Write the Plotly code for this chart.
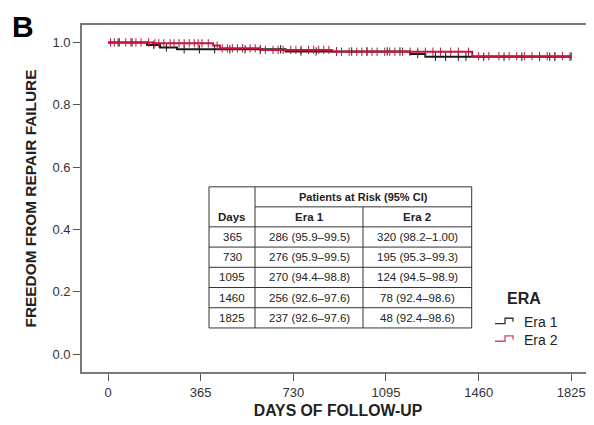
import plotly.graph_objects as go

# ---- data ----
era1_times = [0, 154, 205, 272, 700, 1190, 1250, 1825]
era1_surv = [1.0, 0.992, 0.984, 0.978, 0.971, 0.963, 0.954, 0.954]
era2_times = [0, 177, 414, 441, 599, 883, 1435, 1825]
era2_surv = [1.0, 0.997, 0.990, 0.981, 0.976, 0.970, 0.956, 0.956]

era1_censor = [40, 95, 180, 230, 300, 360, 420, 480, 540, 600, 680, 760, 820, 900,
               960, 1020, 1100, 1150, 1220, 1290, 1330, 1380, 1410, 1480, 1560, 1630,
               1700, 1740, 1760, 1820]
era2_censor = [10, 25, 45, 70, 90, 110, 130, 160, 185, 200, 220, 245, 260, 280, 300,
               320, 340, 355, 370, 395, 430, 450, 470, 490, 510, 530, 560, 580, 600,
               620, 650, 670, 690, 720, 740, 760, 790, 810, 830, 850, 870, 900, 920,
               950, 980, 1000, 1020, 1040, 1060, 1090, 1110, 1130, 1160, 1190, 1220,
               1250, 1280, 1310, 1350, 1380, 1420, 1460, 1500, 1540, 1580, 1610, 1640,
               1670, 1700, 1730, 1760, 1790, 1825]

x_ticks = [0, 365, 730, 1095, 1460, 1825]
y_ticks = [0.0, 0.2, 0.4, 0.6, 0.8, 1.0]

table_days = ["365", "730", "1095", "1460", "1825"]
table_era1 = ["286 (95.9–99.5)", "276 (95.9–99.5)", "270 (94.4–98.8)",
              "256 (92.6–97.6)", "237 (92.6–97.6)"]
table_era2 = ["320 (98.2–1.00)", "195 (95.3–99.3)", "124 (94.5–98.9)",
              "78 (92.4–98.6)", "48 (92.4–98.6)"]

series_names = ["Era 1", "Era 2"]
legend_title = "ERA"

RED = "#C0163F"
BLACK = "#1a1a1a"
FONT = "Arial, Liberation Sans, sans-serif"

# page body has an 8px margin: the figure is sized so it ends at the window edge
OFF = 8
W, H = 594, 425              # reference (window) size
FW, FH = W - OFF, H - OFF    # figure size
ML, MT = 82 - OFF, 25 - OFF
MR = 0
MB = H - 371.7
PW = FW - ML - MR
PH = FH - MT - MB


def px(x):
    """reference window x-pixel -> paper coordinate"""
    return (x - OFF - ML) / PW


def py(y):
    """reference window y-pixel -> paper coordinate"""
    return (FH - MB - (y - OFF)) / PH


def surv_at(t, times, surv):
    val = surv[0]
    for ti, si in zip(times, surv):
        if ti <= t:
            val = si
    return val


fig = go.Figure()

for name, times, surv, cens, col in [
    (series_names[0], era1_times, era1_surv, era1_censor, BLACK),
    (series_names[1], era2_times, era2_surv, era2_censor, RED),
]:
    fig.add_trace(go.Scatter(
        x=times, y=surv, mode="lines", name=name, showlegend=False,
        line=dict(color=col, width=2, shape="hv"),
    ))
    fig.add_trace(go.Scatter(
        x=cens, y=[surv_at(t, times, surv) for t in cens], mode="markers",
        showlegend=False, hoverinfo="skip",
        marker=dict(symbol="line-ns-open", size=6, color=col,
                    line=dict(color=col, width=1)),
    ))

# ---- table ----
tl, tr, tt, tb = 209, 471.7, 186.7, 327.7
c1, c2 = 255, 363
h1, h2 = 206.7, 226.7
row_h = (tb - h2) / len(table_days)
line_style = dict(color="#333333", width=1)
shapes = []
shapes.append(dict(type="rect", xref="paper", yref="paper", x0=px(tl), x1=px(tr),
                   y0=py(tb), y1=py(tt), line=line_style, fillcolor="white", layer="above"))
for cx in (c1, c2):
    y_top = tt if cx == c1 else h1
    shapes.append(dict(type="line", xref="paper", yref="paper", x0=px(cx), x1=px(cx),
                       y0=py(y_top), y1=py(tb), line=line_style, layer="above"))
shapes.append(dict(type="line", xref="paper", yref="paper", x0=px(c1), x1=px(tr),
                   y0=py(h1), y1=py(h1), line=line_style, layer="above"))
for i in range(len(table_days)):
    yy = h2 + i * row_h
    shapes.append(dict(type="line", xref="paper", yref="paper", x0=px(tl), x1=px(tr),
                       y0=py(yy), y1=py(yy), line=line_style, layer="above"))

annotations = []


def add_text(txt, x, y, size=11.5, bold=False, anchor="center", color="#222222"):
    annotations.append(dict(
        text=f"<b>{txt}</b>" if bold else txt, xref="paper", yref="paper",
        x=px(x), y=py(y), showarrow=False, xanchor=anchor, yanchor="middle",
        font=dict(family=FONT, size=size, color=color),
    ))


add_text("Patients at Risk (95% CI)", (c1 + tr) / 2, (tt + h1) / 2, size=11, bold=True)
add_text("Days", (tl + c1) / 2, (h1 + h2) / 2, size=11.5, bold=True)
add_text("Era 1", (c1 + c2) / 2, (h1 + h2) / 2, size=11.5, bold=True)
add_text("Era 2", (c2 + tr) / 2, (h1 + h2) / 2, size=11.5, bold=True)
for i, (d, e1, e2) in enumerate(zip(table_days, table_era1, table_era2)):
    yc = h2 + (i + 0.5) * row_h
    add_text(d, (tl + c1) / 2, yc)
    add_text(e1, (c1 + c2) / 2, yc)
    add_text(e2, (c2 + tr) / 2, yc)

add_text("B", 10, 26, size=30, bold=True, anchor="left", color="black")

# ---- legend (step-shaped key like the original) ----
add_text(legend_title, 524, 298.5, size=16, bold=True, color="#222222")
for name, col, yb in [(series_names[0], "#333333", 323.3), (series_names[1], "#C8486A", 341)]:
    yt = yb - 5.3
    path = (f"M {px(495)},{py(yb)} L {px(505)},{py(yb)} L {px(505)},{py(yt)} "
            f"L {px(513)},{py(yt)} L {px(513)},{py(yb - 1.8)}")
    shapes.append(dict(type="path", xref="paper", yref="paper", path=path,
                       line=dict(color=col, width=1.3)))
    add_text(name, 521.5, yb - 1.3, size=14, anchor="left", color="#222222")

x_scale = (571.3 - 108) / 1825.0
x_range = [(82 - 108) / x_scale, (W - 108) / x_scale]
y_scale = (354 - 42.4) / 1.0
y_range = [-(371.7 - 354) / y_scale, 1 + (42.4 - 25) / y_scale]

fig.update_layout(
    width=FW, height=FH,
    margin=dict(l=ML, r=MR, t=MT, b=MB, autoexpand=False),
    paper_bgcolor="white", plot_bgcolor="white",
    font=dict(family=FONT, size=13, color="#333333"),
    shapes=shapes, annotations=annotations,
    showlegend=False,
    xaxis=dict(
        range=x_range, tickvals=x_ticks, ticktext=[str(v) for v in x_ticks],
        showgrid=False, zeroline=False, showline=True, mirror=True,
        linecolor="#7a7a7a", linewidth=1.8,
        ticks="outside", ticklen=7, tickcolor="#555555", tickwidth=1.3,
        tickfont=dict(size=13, color="#333333"),
        title=dict(text="<b>DAYS OF FOLLOW-UP</b>", font=dict(size=15.8, color="#222222"),
                   standoff=6),
    ),
    yaxis=dict(
        range=y_range, tickvals=y_ticks, tickformat=".1f",
        showgrid=False, zeroline=False, showline=True, mirror=False,
        linecolor="#7a7a7a", linewidth=1.8,
        ticks="outside", ticklen=7, tickcolor="#555555", tickwidth=1.3,
        tickfont=dict(size=13, color="#333333"),
        title=dict(text="<b>FREEDOM FROM REPAIR FAILURE</b>",
                   font=dict(size=15.4, color="#222222"), standoff=12),
    ),
)

fig.write_html("out.html")
